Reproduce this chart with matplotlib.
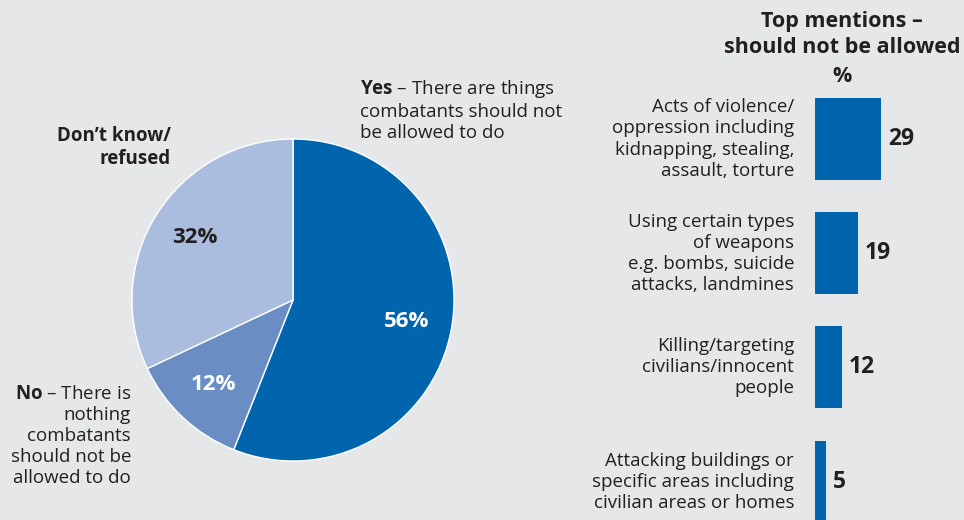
import matplotlib.pyplot as plt

plt.rcParams['font.family'] = ['Open Sans', 'DejaVu Sans']
plt.rcParams['mathtext.fontset'] = 'custom'
plt.rcParams['mathtext.rm'] = 'Open Sans'
plt.rcParams['mathtext.bf'] = 'Open Sans:bold'

# pie: answer shares
pie_labels = ['Yes', 'No', 'Don\u2019t know/refused']
pie_values = [56, 12, 32]
pie_colors = ['#0065AC', '#6A8EC4', '#AABDDE']
pct_colors = ['white', 'white', '#231F20']

# bars: top mentions
bar_labels = ['Acts of violence/\noppression including\nkidnapping, stealing,\nassault, torture',
              'Using certain types\nof weapons\ne.g. bombs, suicide\nattacks, landmines',
              'Killing/targeting\ncivilians/innocent\npeople',
              'Attacking buildings or\nspecific areas including\ncivilian areas or homes']
bar_values = [29, 19, 12, 5]

bg = '#E6E7E9'
txt = '#231F20'
W, H = 964, 520

fig = plt.figure(figsize=(W / 100, H / 100), dpi=100)
fig.patch.set_facecolor(bg)

# ---- pie ----
cx, cy, r = 293, 300, 161
ax = fig.add_axes([(cx - r) / W, (H - cy - r) / H, 2 * r / W, 2 * r / H])
ax.set_facecolor(bg)
wedges, _, autotexts = ax.pie(pie_values, colors=pie_colors, startangle=90, counterclock=False,
                              autopct='%d%%', pctdistance=0.72,
                              wedgeprops=dict(edgecolor='white', linewidth=1))
for t, c in zip(autotexts, pct_colors):
    t.set_color(c)
    t.set_fontsize(16)
    t.set_fontweight('bold')
ax.set_xlim(-1, 1)
ax.set_ylim(-1, 1)
ax.set_aspect('equal')
ax.axis('off')

def px(x, y):
    return ((x - cx) / r, (cy - y) / r)

fs = 13.5
ls = 1.22
ax.text(*px(360, 78), r'$\bf{Yes}$' + ' \u2013 There are things\ncombatants should not\nbe allowed to do',
        ha='left', va='top', fontsize=fs, color=txt, linespacing=ls)
ax.text(*px(171, 126), 'Don\u2019t know/\nrefused', ha='right', va='top', fontsize=fs,
        fontweight='bold', color=txt, linespacing=ls)
ax.text(*px(131, 385), r'$\bf{No}$' + ' \u2013 There is\nnothing\ncombatants\nshould not be\nallowed to do',
        ha='right', va='top', fontsize=fs, color=txt, linespacing=ls)

# ---- bars ----
x0 = 815
scale = 2.27
step = 114.2
top0 = 139
bax = fig.add_axes([x0 / W, 0, (W - x0) / W, (H - 80) / H])
bax.set_facecolor('none')
ypos = list(range(len(bar_values)))
bax.barh(ypos, bar_values, height=82 / step, color='#0065AC')
bax.set_xlim(0, (W - x0) / scale)
bax.set_ylim((H - top0) / step, -(top0 - 80) / step)
bax.axis('off')
for y, v, lab in zip(ypos, bar_values, bar_labels):
    bax.annotate(lab, (0, y), xytext=(-15, 0), textcoords='offset points', ha='right', va='center',
                 fontsize=fs, color=txt, linespacing=ls, annotation_clip=False)
    bax.annotate(str(v), (v, y), xytext=(5, 0), textcoords='offset points', ha='left', va='center',
                 fontsize=16.5, fontweight='bold', color=txt, annotation_clip=False)

fig.text(842 / W, 1 - 11 / H, 'Top mentions \u2013\nshould not be allowed', ha='center', va='top',
         fontsize=15.5, fontweight='bold', color=txt, linespacing=1.3)
fig.text(842 / W, 1 - 66 / H, '%', ha='center', va='top', fontsize=15.5, fontweight='bold', color=txt)

fig.savefig('out.png', dpi=100, facecolor=bg)
